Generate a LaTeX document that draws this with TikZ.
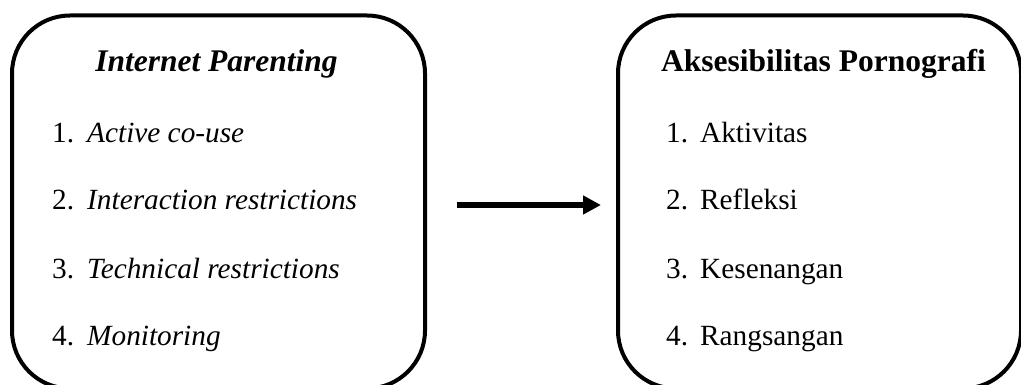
\documentclass[tikz,border=0pt]{standalone}
\usepackage{fontspec}
\setmainfont{Liberation Serif}
\usetikzlibrary{arrows.meta}
\begin{document}
\begin{tikzpicture}[x=1pt,y=-1pt,
  box/.style={draw=black, line width=4pt, rounded corners=58pt, inner sep=0pt},
  txt/.style={anchor=base west, inner sep=0pt, font=\fontsize{29.3}{34}\selectfont},
  head/.style={anchor=base, inner sep=0pt, font=\fontsize{31.5}{36}\selectfont\bfseries},
  conn/.style={line width=5.5pt, -{Triangle[length=18pt,width=18pt]}}]
\useasboundingbox (0,0) rectangle (1021,385);
\clip (0,0) rectangle (1021,385);
\node[box, minimum width=413pt, minimum height=373pt] (L) at (218.5,202) {};
\node[box, minimum width=403pt, minimum height=373pt] (R) at (819.5,202) {};
\node[head] (LH) at (216.5,72) {\itshape Internet Parenting};
\node[head] (RH) at (823.5,72) {Aksesibilitas Pornografi};
\node[txt] (L1) at (52,143) {\makebox[35pt][l]{1.}\textit{Active co-use}};
\node[txt] (L2) at (52,210) {\makebox[35pt][l]{2.}\textit{Interaction restrictions}};
\node[txt] (L3) at (52,278) {\makebox[35pt][l]{3.}\textit{Technical restrictions}};
\node[txt] (L4) at (52,345) {\makebox[35pt][l]{4.}\textit{Monitoring}};
\node[txt] (R1) at (666,143) {\makebox[34pt][l]{1.}Aktivitas};
\node[txt] (R2) at (666,210) {\makebox[34pt][l]{2.}Refleksi};
\node[txt] (R3) at (666,278) {\makebox[34pt][l]{3.}Kesenangan};
\node[txt] (R4) at (666,345) {\makebox[34pt][l]{4.}Rangsangan};
\coordinate (a1) at ([yshift=-3pt]L.east);
\coordinate (a2) at ([yshift=-3pt]R.west);
\draw[conn, shorten <=30pt, shorten >=15pt] (a1) -- (a2);
\end{tikzpicture}
\end{document}
